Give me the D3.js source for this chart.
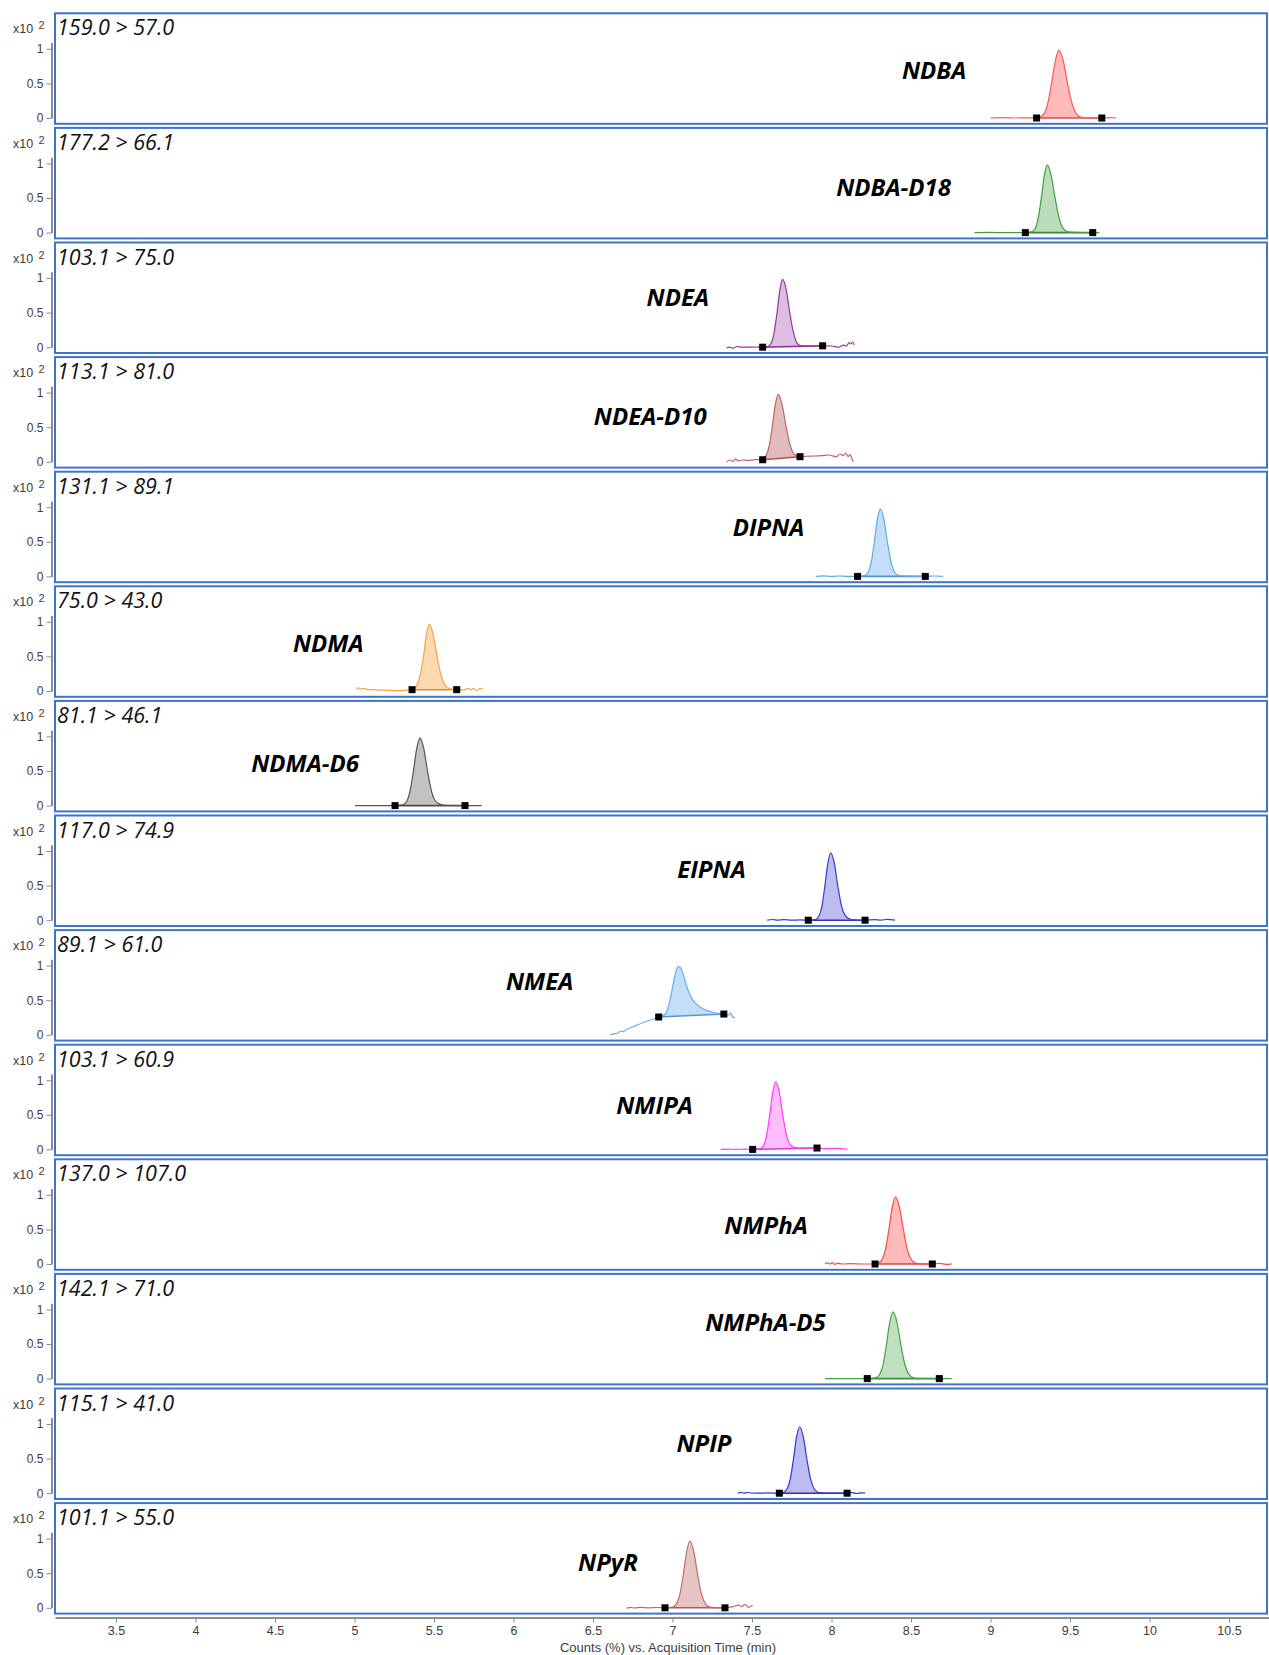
<!DOCTYPE html>
<html>
<head>
<meta charset="utf-8">
<script src="https://cdn.jsdelivr.net/npm/d3@7"></script>
<style>
  html, body { margin: 0; padding: 0; background: #ffffff; }
  svg { display: block; }
</style>
</head>
<body>
<svg id="chart" width="1269" height="1655"></svg>
<script>
// ---- Data -------------------------------------------------------------

const compounds = ["NDBA", "NDBA-D18", "NDEA", "NDEA-D10", "DIPNA", "NDMA", "NDMA-D6",
                   "EIPNA", "NMEA", "NMIPA", "NMPhA", "NMPhA-D5", "NPIP", "NPyR"];

const transitions = ["159.0 > 57.0", "177.2 > 66.1", "103.1 > 75.0", "113.1 > 81.0",
                     "131.1 > 89.1", "75.0 > 43.0", "81.1 > 46.1", "117.0 > 74.9",
                     "89.1 > 61.0", "103.1 > 60.9", "137.0 > 107.0", "142.1 > 71.0",
                     "115.1 > 41.0", "101.1 > 55.0"];

const xTicks = [3.5, 4, 4.5, 5, 5.5, 6, 6.5, 7, 7.5, 8, 8.5, 9, 9.5, 10, 10.5];
const yTicks = [0, 0.5, 1];

// Chromatogram traces: [acquisition time (min), counts (x10^2)]
const traceNDBA = [[9.00,0.0],[9.08,0.005],[9.16,0.0],[9.24,0.003],[9.29,0.0],[9.308,0.01],[9.336,0.06],
  [9.36,0.21],[9.383,0.49],[9.407,0.82],[9.43,0.98],[9.458,0.82],[9.485,0.49],[9.513,0.21],[9.54,0.06],
  [9.573,0.01],[9.62,0.0],[9.70,0.0],[9.75,0.005],[9.79,0.0]];

const traceNDBAD18 = [[8.90,0.0],[9.0,0.002],[9.1,0.0],[9.219,0.0],[9.258,0.01],[9.281,0.06],[9.30,0.21],
  [9.319,0.49],[9.338,0.82],[9.357,0.98],[9.382,0.82],[9.407,0.49],[9.432,0.21],[9.457,0.06],[9.487,0.01],
  [9.53,0.003],[9.643,0.0],[9.684,0.0]];

const traceNDEA = [[7.341,-0.01],[7.361,0.0],[7.382,-0.015],[7.404,0.01],[7.435,0.0],[7.477,0.0],[7.52,0.003],
  [7.567,0.0],[7.599,0.01],[7.621,0.06],[7.639,0.21],[7.657,0.49],[7.675,0.82],[7.693,0.98],[7.716,0.82],
  [7.738,0.49],[7.761,0.21],[7.783,0.06],[7.81,0.02],[7.86,0.015],[7.944,0.02],[8.001,0.017],[8.043,0.0],
  [8.074,0.03],[8.095,0.017],[8.11,0.065],[8.123,0.046],[8.133,0.075],[8.143,0.03]];

const traceNDEAD10 = [[7.341,0.0],[7.361,0.026],[7.382,0.007],[7.397,0.04],[7.414,0.012],[7.435,0.026],
  [7.477,0.021],[7.52,0.03],[7.567,0.03],[7.589,0.09],[7.608,0.23],[7.627,0.50],[7.646,0.82],[7.665,0.975],
  [7.69,0.82],[7.715,0.50],[7.74,0.24],[7.765,0.11],[7.802,0.074],[7.85,0.08],[7.896,0.084],[7.94,0.09],
  [7.98,0.098],[8.032,0.074],[8.053,0.113],[8.074,0.088],[8.089,0.123],[8.106,0.074],[8.116,0.108],
  [8.127,0.05],[8.137,0.0]];

const traceDIPNA = [[7.90,0.0],[7.95,0.008],[8.0,0.0],[8.05,0.006],[8.10,0.0],[8.164,0.0],[8.208,0.01],
  [8.231,0.06],[8.25,0.205],[8.269,0.49],[8.288,0.82],[8.307,0.975],[8.33,0.82],[8.352,0.49],[8.375,0.205],
  [8.397,0.06],[8.424,0.01],[8.48,0.005],[8.59,0.0],[8.65,0.006],[8.70,0.0]];

const traceNDMA = [[5.014,0.014],[5.024,0.048],[5.035,0.024],[5.049,0.039],[5.077,0.024],[5.16,0.014],
  [5.265,0.005],[5.362,0.019],[5.375,0.03],[5.396,0.10],[5.415,0.25],[5.433,0.49],[5.452,0.81],[5.47,0.965],
  [5.495,0.81],[5.52,0.49],[5.545,0.22],[5.57,0.08],[5.60,0.03],[5.643,0.019],[5.684,0.014],[5.716,0.039],
  [5.731,0.014],[5.747,0.034],[5.769,0.005],[5.789,0.034],[5.806,0.039]];

const traceNDMAD6 = [[5.003,0.0],[5.1,0.0],[5.2,0.0],[5.255,0.0],[5.303,0.01],[5.328,0.06],[5.349,0.21],
  [5.37,0.49],[5.391,0.82],[5.412,0.98],[5.436,0.82],[5.46,0.49],[5.484,0.21],[5.508,0.07],[5.54,0.02],
  [5.57,0.005],[5.695,0.0],[5.80,0.0]];

const traceEIPNA = [[7.596,0.0],[7.63,0.01],[7.66,0.0],[7.70,0.008],[7.75,0.0],[7.80,0.004],[7.854,0.0],
  [7.899,0.01],[7.921,0.06],[7.94,0.205],[7.958,0.49],[7.977,0.82],[7.995,0.975],[8.018,0.82],[8.04,0.49],
  [8.063,0.205],[8.085,0.07],[8.112,0.02],[8.14,0.005],[8.211,0.0],[8.27,0.008],[8.31,0.0],[8.35,0.012],
  [8.399,0.0]];

const traceNMEA = [[6.607,0.0],[6.638,0.016],[6.659,0.031],[6.674,0.055],[6.691,0.045],[6.712,0.079],
  [6.753,0.117],[6.838,0.195],[6.913,0.257],[6.953,0.296],[6.974,0.406],[6.995,0.623],[7.016,0.864],
  [7.030,0.970],[7.041,0.984],[7.053,0.96],[7.072,0.84],[7.093,0.672],[7.121,0.527],[7.152,0.44],
  [7.194,0.373],[7.247,0.33],[7.323,0.30],[7.351,0.286],[7.366,0.315],[7.378,0.257],[7.393,0.247]];

const traceNMIPA = [[7.303,0.0],[7.35,0.005],[7.40,0.0],[7.45,0.004],[7.504,0.0],[7.55,0.01],[7.573,0.06],
  [7.592,0.205],[7.611,0.49],[7.63,0.82],[7.649,0.975],[7.672,0.82],[7.694,0.49],[7.717,0.205],[7.739,0.07],
  [7.766,0.03],[7.80,0.02],[7.909,0.02],[7.96,0.01],[8.02,0.015],[8.10,0.0]];

const traceNMPhA = [[7.959,0.0],[7.975,0.015],[7.99,0.0],[8.005,0.02],[8.02,-0.005],[8.04,0.01],[8.07,0.0],
  [8.12,0.005],[8.2,0.0],[8.274,0.0],[8.291,0.01],[8.317,0.06],[8.338,0.2],[8.36,0.485],[8.381,0.81],
  [8.403,0.97],[8.428,0.81],[8.453,0.485],[8.478,0.2],[8.503,0.06],[8.533,0.01],[8.58,0.0],[8.634,0.0],
  [8.68,0.008],[8.72,-0.005],[8.756,0.003]];

const traceNMPhAD5 = [[7.959,0.0],[8.05,0.0],[8.15,0.0],[8.225,0.0],[8.278,0.01],[8.303,0.06],[8.324,0.2],
  [8.345,0.48],[8.366,0.81],[8.387,0.965],[8.412,0.81],[8.437,0.48],[8.462,0.2],[8.487,0.06],[8.517,0.01],
  [8.56,0.002],[8.678,0.0],[8.756,0.0]];

const traceNPIP = [[7.41,0.0],[7.43,0.012],[7.45,0.0],[7.47,0.01],[7.50,0.003],[7.55,0.0],[7.60,0.005],
  [7.672,0.0],[7.696,0.01],[7.72,0.06],[7.74,0.2],[7.76,0.48],[7.78,0.81],[7.80,0.96],[7.823,0.81],
  [7.846,0.48],[7.869,0.2],[7.892,0.06],[7.92,0.01],[8.0,0.0],[8.098,0.0],[8.13,0.008],[8.16,-0.004],
  [8.19,0.006],[8.211,0.0]];

const traceNPyR = [[6.712,-0.005],[6.74,0.005],[6.76,-0.003],[6.80,0.006],[6.85,0.0],[6.90,0.004],[6.953,0.0],
  [7.001,0.01],[7.026,0.06],[7.047,0.2],[7.068,0.48],[7.089,0.81],[7.11,0.965],[7.134,0.81],[7.158,0.48],
  [7.182,0.2],[7.206,0.06],[7.235,0.01],[7.28,0.003],[7.33,0.0],[7.382,0.016],[7.414,0.04],[7.435,0.016],
  [7.456,0.05],[7.477,0.007],[7.504,0.036]];

const traces = [traceNDBA, traceNDBAD18, traceNDEA, traceNDEAD10, traceDIPNA, traceNDMA, traceNDMAD6,
                traceEIPNA, traceNMEA, traceNMIPA, traceNMPhA, traceNMPhAD5, traceNPIP, traceNPyR];

// Peak integration start / end times (min)
const integrationLimits = [[9.29, 9.70], [9.219, 9.643], [7.567, 7.944], [7.567, 7.802], [8.164, 8.59],
                           [5.362, 5.643], [5.255, 5.695], [7.854, 8.211], [6.913, 7.323], [7.504, 7.909],
                           [8.274, 8.634], [8.225, 8.678], [7.672, 8.098], [6.953, 7.33]];

// ---- Styles / layout ---------------------------------------------------

const lineColors = ["#ff5a5a", "#3f9f3f", "#9a35a0", "#c06565", "#5ea9f2", "#ffa040", "#555555",
                    "#3a3ad2", "#62aef2", "#ff3cff", "#ff4a4a", "#43a343", "#3535d8", "#c26a6a"];
const fillColors = ["#ffbaba", "#bcdcbc", "#ddbde2", "#e2bcbc", "#c4def9", "#fdd9b2", "#c2c2c2",
                    "#bcbcee", "#c4def9", "#ffbcff", "#ffbaba", "#bfe0bf", "#bcbcf2", "#e6c4c4"];

// compound label anchor in data units: [time, counts]
const labelAnchors = [[8.645, 0.564], [8.390, 0.535], [7.033, 0.590], [6.860, 0.536], [7.604, 0.584],
                      [4.835, 0.568], [4.689, 0.490], [7.245, 0.617], [6.164, 0.647], [6.887, 0.512],
                      [7.588, 0.434], [7.585, 0.692], [7.198, 0.591], [6.594, 0.536]];

const plotLeft = 55, plotRight = 1267;
const panelTop0 = 13.3, panelPitch = 114.6, panelHeight = 110.5;
const zeroOffset = 104.7, unitHeight = 69.2;
const axisBottomY = 1617.5;

const tickFont = "'Liberation Sans', Arial, sans-serif";
const textFont = "'Open Sans', 'Noto Sans', sans-serif";

// ---- Drawing -----------------------------------------------------------

const svg = d3.select("#chart");
const x = d3.scaleLinear().domain([3.5, 10.5]).range([116, 1229]);

function valueAt(trace, t) {
  const i = d3.bisector(d => d[0]).left(trace, t);
  if (i <= 0) return trace[0][1];
  if (i >= trace.length) return trace[trace.length - 1][1];
  const a = trace[i - 1], b = trace[i];
  return d3.interpolateNumber(a[1], b[1])((t - a[0]) / (b[0] - a[0]));
}

const defs = svg.append("defs");

compounds.forEach((name, i) => {
  const top = panelTop0 + i * panelPitch;
  const y = d3.scaleLinear().domain([0, 1]).range([top + zeroOffset, top + zeroOffset - unitHeight]);
  const g = svg.append("g").attr("class", "panel");

  defs.append("clipPath").attr("id", "clip" + i)
    .append("rect").attr("x", plotLeft).attr("y", top)
    .attr("width", plotRight - plotLeft).attr("height", panelHeight);

  // y axis
  const yAxisScale = y.copy().domain([0, 1.09]).range([y(0), y(1.09)]);
  const ax = g.append("g").attr("transform", "translate(51.5,0)")
    .call(d3.axisLeft(yAxisScale).tickValues(yTicks).tickFormat(d => String(d))
      .tickSize(5).tickSizeOuter(0).tickPadding(3));
  ax.select(".domain").attr("stroke", "#8c8c8c").attr("stroke-width", 2);
  ax.selectAll(".tick line").attr("stroke", "#8c8c8c").attr("stroke-width", 1);
  ax.selectAll(".tick text").attr("fill", "#3c3c3c").style("font-family", tickFont).style("font-size", "12px");

  // scale factor label
  const sf = g.append("text").attr("x", 13).attr("y", top + 20)
    .style("font-family", tickFont).style("font-size", "12.5px").attr("fill", "#3c3c3c");
  sf.append("tspan").text("x10");
  sf.append("tspan").attr("x", 38.5).attr("y", top + 16).style("font-size", "11px").text("2");

  // plot content
  const content = g.append("g").attr("clip-path", `url(#clip${i})`);
  const trace = traces[i];
  const [t1, t2] = integrationLimits[i];
  const v1 = valueAt(trace, t1), v2 = valueAt(trace, t2);
  const baseline = d3.scaleLinear().domain([t1, t2]).range([v1, v2]);
  const peakPts = trace.filter(d => d[0] >= t1 - 1e-9 && d[0] <= t2 + 1e-9);

  content.append("path")
    .datum(peakPts)
    .attr("fill", fillColors[i])
    .attr("d", d3.area().curve(d3.curveMonotoneX)
      .x(d => x(d[0])).y0(d => y(baseline(d[0]))).y1(d => y(d[1])));

  content.append("line")
    .attr("x1", x(t1)).attr("y1", y(v1)).attr("x2", x(t2)).attr("y2", y(v2))
    .attr("stroke", d3.color(lineColors[i]).darker(0.4)).attr("stroke-width", 1.6);

  content.append("path")
    .datum(trace)
    .attr("fill", "none")
    .attr("stroke", lineColors[i])
    .attr("stroke-width", 1.2)
    .attr("stroke-linejoin", "round")
    .attr("d", d3.line().curve(d3.curveMonotoneX).x(d => x(d[0])).y(d => y(d[1])));

  content.selectAll("rect.marker")
    .data([[t1, v1], [t2, v2]])
    .join("rect").attr("class", "marker")
    .attr("x", d => x(d[0]) - 3.5).attr("y", d => y(d[1]) - 3.5)
    .attr("width", 7).attr("height", 7).attr("fill", "#000");

  // transition and compound labels
  g.append("text").attr("x", 57).attr("y", top + 22)
    .style("font-family", textFont).style("font-style", "italic").style("font-size", "21.5px")
    .attr("fill", "#111").text(transitions[i]);

  g.append("text")
    .attr("x", x(labelAnchors[i][0])).attr("y", y(labelAnchors[i][1]))
    .attr("text-anchor", "middle")
    .style("font-family", textFont).style("font-style", "italic").style("font-weight", "700")
    .style("font-size", "24px").attr("fill", "#000").text(name);

  // panel frame
  g.append("rect")
    .attr("x", plotLeft).attr("y", top)
    .attr("width", plotRight - plotLeft).attr("height", panelHeight)
    .attr("fill", "none").attr("stroke", "#3e74cc").attr("stroke-width", 2);
});

// shared x axis
const xAxisScale = x.copy().domain([x.invert(plotLeft), x.invert(1269)]).range([plotLeft, 1269]);
const xa = svg.append("g").attr("transform", `translate(0,${axisBottomY})`)
  .call(d3.axisBottom(xAxisScale).tickValues(xTicks).tickFormat(d => String(d))
    .tickSize(5).tickSizeOuter(0).tickPadding(4));
xa.select(".domain").attr("stroke", "#8c8c8c").attr("stroke-width", 2);
xa.selectAll(".tick line").attr("stroke", "#8c8c8c");
xa.selectAll(".tick text").attr("fill", "#3c3c3c").style("font-family", tickFont).style("font-size", "12.5px");

svg.append("text").attr("x", 668).attr("y", 1652).attr("text-anchor", "middle")
  .style("font-family", tickFont).style("font-size", "13px").attr("fill", "#3c3c3c")
  .text("Counts (%) vs. Acquisition Time (min)");
</script>
</body>
</html>
